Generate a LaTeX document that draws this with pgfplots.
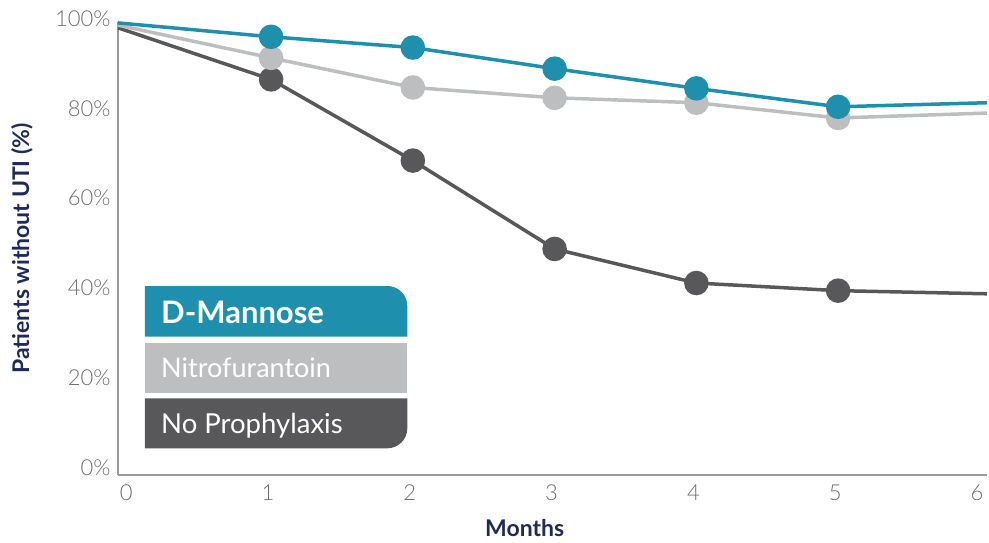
\documentclass[border=0pt]{standalone}
\usepackage{fontspec}
\setmainfont{Lato}
\newfontfamily\latolight{Lato Light}
\usepackage{pgfplots}
\pgfplotsset{compat=1.18}
\usetikzlibrary{calc}
\definecolor{cblue}{HTML}{1F8FAE}
\definecolor{cgrey}{HTML}{BDBEC0}
\definecolor{cdark}{HTML}{58585A}
\definecolor{cnavy}{HTML}{1F2A5C}
\definecolor{caxis}{HTML}{9A9A9C}
\definecolor{ctick}{HTML}{6D6E71}
\begin{document}
\begin{tikzpicture}
\begin{axis}[
  scale only axis,
  width=869pt, height=453pt,
  xmin=-0.08, xmax=6.05, ymin=0, ymax=101,
  axis lines*=left,
  axis line style={caxis, line width=1.5pt},
  xtick={0,1,2,3,4,5,6},
  ytick={0,20,40,60,80,100},
  yticklabels={0\%,20\%,40\%,60\%,80\%,100\%},
  major tick length=0pt,
  /pgf/number format/assume math mode=true,
  tick label style={font=\latolight\fontsize{22}{22}\selectfont, text=ctick},
  yticklabel style={anchor=base east, xshift=-4pt},
  xticklabel style={anchor=north, yshift=-6pt, xshift=-3pt},
  xlabel={Months},
  ylabel={Patients without UTI (\%)},
  every axis x label/.style={at={(axis description cs:0.468,-0.117)}, anchor=center, font=\bfseries\fontsize{23}{23}\selectfont, text=cnavy},
  every axis y label/.style={at={(axis description cs:-0.1105,0.5)}, rotate=90, anchor=center, font=\bfseries\fontsize{23}{23}\selectfont, text=cnavy},
  clip=false,
]
\addplot[cdark, line width=3.5pt, mark=*, mark size=10.5pt, mark indices={2,3,4,5,6}, mark options={fill=cdark, draw=none}]
  coordinates {(-0.08,99.7) (1,88.2) (2,70.1) (3,50.4) (4,42.8) (5,41.1) (6.05,40.4)};
\addplot[cgrey, line width=3.5pt, mark=*, mark size=10.5pt, mark indices={2,3,4,5,6}, mark options={fill=cgrey, draw=none}]
  coordinates {(-0.08,100.3) (1,93.0) (2,86.4) (3,84.1) (4,83.0) (5,79.6) (6.05,80.7)};
\addplot[cblue, line width=3.5pt, mark=*, mark size=10.5pt, mark indices={2,3,4,5,6}, mark options={fill=cblue, draw=none}]
  coordinates {(-0.08,100.8) (1,97.7) (2,95.3) (3,90.6) (4,86.2) (5,82.1) (6.05,83.0)};
\end{axis}
\begin{scope}[shift={($(current axis.south west)+(-118pt,475pt)$)}, x=1pt, y=-1pt]
  \fill[cblue] (145,336.7) -- (145,286) [rounded corners=20pt] -- (407.3,286) [sharp corners] -- (407.3,336.7) -- cycle;
  \fill[cgrey] (145,342.7) rectangle (407.3,392.7);
  \fill[cdark] (145,398.3) -- (145,448.3) [rounded corners=20pt] -- (407.3,448.3) [sharp corners] -- (407.3,398.3) -- cycle;
  \node[anchor=base west, inner sep=0pt, text=white, font=\bfseries\fontsize{31}{31}\selectfont] at (161,323.3) {D-Mannose};
  \node[anchor=base west, inner sep=0pt, text=white, font=\fontsize{27}{27}\selectfont] at (161,377.3) {Nitrofurantoin};
  \node[anchor=base west, inner sep=0pt, text=white, font=\fontsize{27.5}{27.5}\selectfont] at (161,433.3) {No Prophylaxis};
  \pgfresetboundingbox
  \path[use as bounding box] (0,0) rectangle (989,542);
\end{scope}
\end{tikzpicture}
\end{document}
